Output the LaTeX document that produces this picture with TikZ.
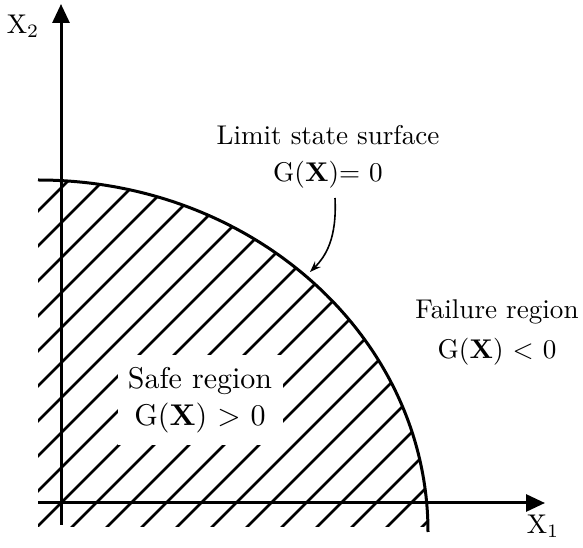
\documentclass[tikz,border=0pt]{standalone}
\usetikzlibrary{arrows.meta}
\begin{document}
\begin{tikzpicture}[x=1pt,y=1pt,
  axis/.style={line width=3pt,-{Triangle[width=17pt,length=19pt]}},
  hatch/.style={line width=2.6pt},
  lbl/.style={font=\fontsize{10}{13.8}\selectfont,align=center,inner sep=0pt,scale=2.71,transform shape},
  safebox/.style={font=\fontsize{10}{12.3}\selectfont,align=center,fill=white,minimum width=55pt,minimum height=30pt,inner sep=0pt,scale=3.0,transform shape},
  pointer/.style={line width=1.6pt,-{Stealth[length=11pt,width=8pt]}}]
\useasboundingbox (0,0) rectangle (583,548);
% hatching
\begin{scope}
  \clip (38,21) rectangle (440,368);
  \clip (38,16) ellipse [x radius=390, y radius=352];
  \foreach \k in {-12,...,13}{
    \draw[hatch] (0,{-16-35*\k}) -- (600,{584-35*\k});
  }
\end{scope}
% limit state arc
\draw[line width=3pt] (38,368) arc[start angle=90,end angle=0,x radius=390,y radius=352];
% axes
\draw[axis] (38,45) -- (545,45);
\draw[axis] (61,23) -- (61,544);
\node[lbl] (x1) at (543,22) {X$_1$};
\node[lbl] (x2) at (23,522) {X$_2$};
% safe region
\node[safebox] (safe) at (200,148) {Safe region\\G($\mathbf{X}$) $>$ 0};
% labels
\node[lbl] (lss) at (328,413) {Limit state surface};
\node[lbl] (lss0) at (328,373) {G($\mathbf{X}$)= 0};
\node[lbl] (fail) at (497,236) {Failure region};
\node[lbl] (fail0) at (497,196) {G($\mathbf{X}$) $<$ 0};
% pointer
\coordinate (ps) at (335,350);
\coordinate (pe) at (310,276);
\draw[pointer] (ps) .. controls (337,310) and (326,292) .. (pe);
\end{tikzpicture}
\end{document}
